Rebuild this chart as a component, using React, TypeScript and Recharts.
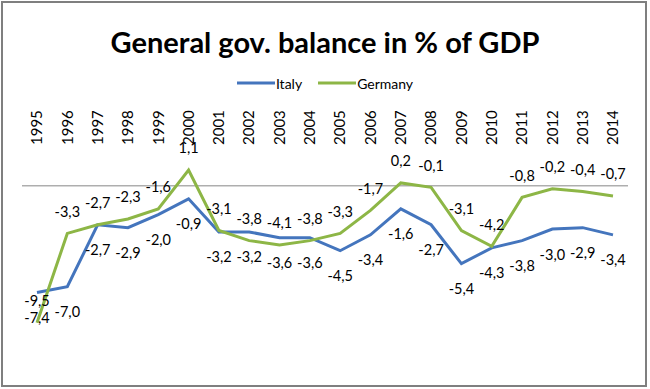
import React from 'react';
import { LineChart, Line, XAxis, YAxis, ReferenceLine, Legend, LabelList } from 'recharts';

const years = ['1995','1996','1997','1998','1999','2000','2001','2002','2003','2004','2005','2006','2007','2008','2009','2010','2011','2012','2013','2014'];
const italy = [-7.4,-7.0,-2.7,-2.9,-2.0,-0.9,-3.2,-3.2,-3.6,-3.6,-4.5,-3.4,-1.6,-2.7,-5.4,-4.3,-3.8,-3.0,-2.9,-3.4];
const germany = [-9.5,-3.3,-2.7,-2.3,-1.6,1.1,-3.1,-3.8,-4.1,-3.8,-3.3,-1.7,0.2,-0.1,-3.1,-4.2,-0.8,-0.2,-0.4,-0.7];

const data = years.map((y, i) => ({ year: y, Italy: italy[i], Germany: germany[i] }));

const FONT = 'Lato, "Open Sans", sans-serif';
const BLUE = '#4475BD';
const GREEN = '#8DB646';

const fmt = (v: number) => v.toFixed(1).replace('.', ',');

const YearTick = (props: any) => {
  const { x, y, payload } = props;
  return (
    <text
      transform={`translate(${x},${y}) rotate(-90)`}
      textAnchor="start"
      dy="0.35em"
      fontFamily={FONT}
      fontSize={15}
      fill="#000"
    >
      {payload.value}
    </text>
  );
};

const makeLabel = (dyOff: number) => (props: any) => {
  const { x, y, value } = props;
  return (
    <text x={x} y={y + dyOff} textAnchor="middle" dominantBaseline="central" fontFamily={FONT} fontSize={14.5} fill="#000">
      {fmt(value)}
    </text>
  );
};

const LegendContent = () => (
  <div style={{ height: 20, display: 'flex', justifyContent: 'center', alignItems: 'center', fontFamily: FONT, fontSize: 14, color: '#000' }}>
    <div style={{ display: 'flex', alignItems: 'center', marginRight: 16 }}>
      <svg width={38} height={6}><line x1={0} y1={3} x2={38} y2={3} stroke={BLUE} strokeWidth={3} /></svg>
      <span style={{ marginLeft: 1 }}>Italy</span>
    </div>
    <div style={{ display: 'flex', alignItems: 'center' }}>
      <svg width={38} height={6}><line x1={0} y1={3} x2={38} y2={3} stroke={GREEN} strokeWidth={3} /></svg>
      <span style={{ marginLeft: 1 }}>Germany</span>
    </div>
  </div>
);

export default function App() {
  return (
    <div style={{ position: 'absolute', left: 0, top: 0, width: 650, height: 389, background: '#fff' }}>
      <div style={{ position: 'absolute', left: 1, top: 1, width: 646, height: 386, border: '2px solid #7f7f7f', boxSizing: 'border-box' }} />
      <div style={{ position: 'absolute', left: 0, top: 22, width: 650, textAlign: 'center', fontFamily: FONT, fontWeight: 700, fontSize: 29, lineHeight: '40px', color: '#000' }}>
        General gov. balance in % of GDP
      </div>
      <div style={{ position: 'absolute', left: 0, top: 0 }}>
        <LineChart width={650} height={389} data={data} margin={{ top: 73, right: 22, bottom: 59, left: 22 }}>
          <Legend verticalAlign="top" height={20} content={<LegendContent />} />
          <XAxis
            dataKey="year"
            orientation="top"
            height={64}
            axisLine={false}
            tickLine={false}
            tickSize={0}
            tickMargin={12}
            interval={0}
            padding={{ left: 15, right: 15 }}
            tick={<YearTick />}
          />
          <YAxis hide domain={[-10, 2]} />
          <ReferenceLine y={0} stroke="#868686" strokeWidth={1} />
          <Line dataKey="Italy" stroke={BLUE} strokeWidth={3} dot={false} isAnimationActive={false}>
            <LabelList dataKey="Italy" content={makeLabel(25)} />
          </Line>
          <Line dataKey="Germany" stroke={GREEN} strokeWidth={3} dot={false} isAnimationActive={false}>
            <LabelList dataKey="Germany" content={makeLabel(-22)} />
          </Line>
        </LineChart>
      </div>
    </div>
  );
}
